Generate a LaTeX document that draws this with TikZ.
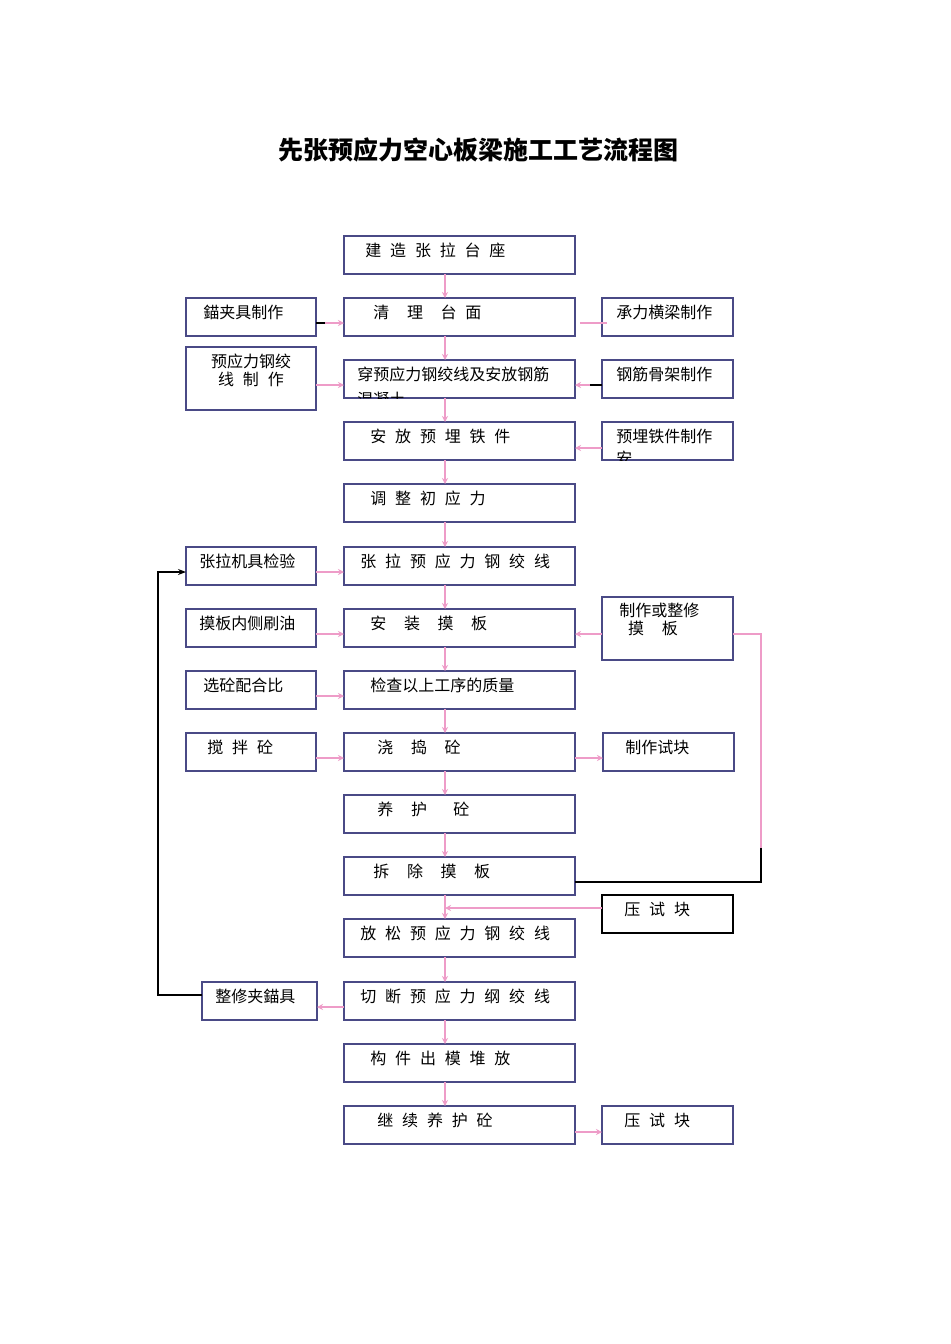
\documentclass[tikz,border=0pt]{standalone}
\usepackage{fontspec}
\setmainfont{Noto Sans CJK SC}
\usetikzlibrary{arrows.meta}
\definecolor{bx}{HTML}{4A4A86}
\definecolor{pk}{HTML}{EE9CC8}
\newcommand{\gapx}{\hspace{0.55em}}
\begin{document}
\begin{tikzpicture}[x=0.5pt,y=-0.5pt,
  box/.style={draw=bx,line width=0.9pt},
  tx/.style={anchor=west,font=\fontsize{8}{9}\selectfont,inner sep=0pt},
  pa/.style={draw=pk,line width=0.8pt,-{Stealth[length=3pt,width=3pt]}},
  pl/.style={draw=pk,line width=0.8pt}]
\useasboundingbox (0,0) rectangle (950,1344);
\fill[white] (0,0) rectangle (950,1344);
\node[font=\bfseries\fontsize{12.5}{14}\selectfont] (title) at (478,150) {先张预应力空心板梁施工工艺流程图};
% center column
\foreach \n/\y/\t/\xx in {
 c1/236/{建\gapx 造\gapx 张\gapx 拉\gapx 台\gapx 座}/365,
 c2/298/{清\gapx\gapx 理\gapx\gapx 台\gapx 面}/373,
 c3/360/{穿预应力钢绞线及安放钢筋}/357,
 c4/422/{安\gapx 放\gapx 预\gapx 埋\gapx 铁\gapx 件}/370,
 c5/484/{调\gapx 整\gapx 初\gapx 应\gapx 力}/370,
 c6/547/{张\gapx 拉\gapx 预\gapx 应\gapx 力\gapx 钢\gapx 绞\gapx 线}/360,
 c7/609/{安\gapx\gapx 装\gapx\gapx 摸\gapx\gapx 板}/370,
 c8/671/{检查以上工序的质量}/370,
 c9/733/{浇\gapx\gapx 捣\gapx\gapx 砼}/377,
 c10/795/{养\gapx\gapx 护\gapx\gapx\gapx 砼}/377,
 c11/857/{拆\gapx\gapx 除\gapx\gapx 摸\gapx\gapx 板}/373,
 c12/919/{放\gapx 松\gapx 预\gapx 应\gapx 力\gapx 钢\gapx 绞\gapx 线}/360,
 c13/982/{切\gapx 断\gapx 预\gapx 应\gapx 力\gapx 纲\gapx 绞\gapx 线}/360,
 c14/1044/{构\gapx 件\gapx 出\gapx 模\gapx 堆\gapx 放}/370,
 c15/1106/{继\gapx 续\gapx 养\gapx 护\gapx 砼}/377}{
  \draw[box] (344,\y) rectangle (575,\y+38);
  \coordinate (\n t) at (445,\y);
  \coordinate (\n b) at (445,\y+38);
  \node[tx] (\n) at (\xx,\y+14) {\t};
}
\begin{scope}
\clip (344,360) rectangle (575,398);
\node[tx] (c3x) at (357,399) {混凝土};
\end{scope}
\foreach \a/\b in {c1/c2,c2/c3,c3/c4,c4/c5,c5/c6,c6/c7,c7/c8,c8/c9,c9/c10,c10/c11,c11/c12,c12/c13,c13/c14,c14/c15}{
  \draw[pa] (\a b) -- (\b t);
}
% left boxes
\draw[box] (186,298) rectangle (316,336); \node[tx] (l1) at (203,312) {錨夹具制作};
\draw[box] (186,347) rectangle (316,410); \node[tx,align=center,anchor=north] (l2) at (251,354) {预应力钢绞\\线\gapx 制\gapx 作};
\draw[box] (186,547) rectangle (316,585); \node[tx] (l3) at (199,561) {张拉机具检验};
\draw[box] (186,609) rectangle (316,647); \node[tx] (l4) at (199,623) {摸板内侧刷油};
\draw[box] (186,671) rectangle (316,709); \node[tx] (l5) at (203,685) {选砼配合比};
\draw[box] (186,733) rectangle (316,771); \node[tx] (l6) at (207,747) {搅\gapx 拌\gapx 砼};
\draw[box] (202,982) rectangle (317,1020); \node[tx] (l7) at (215,996) {整修夹錨具};
% right boxes
\draw[box] (602,298) rectangle (733,336); \node[tx] (r1) at (616,312) {承力横梁制作};
\draw[box] (602,360) rectangle (733,398); \node[tx] (r2) at (616,374) {钢筋骨架制作};
\draw[box] (602,422) rectangle (733,460); \node[tx] (r3) at (616,436) {预埋铁件制作};
\begin{scope}
\clip (602,422) rectangle (733,460);
\node[tx] (r3x) at (616,458) {安};
\end{scope}
\draw[box] (602,597) rectangle (733,660); \node[tx,align=left,anchor=north west] (r4) at (619,603) {制作或整修\\\gapx 摸\gapx\gapx 板};
\draw[box] (603,733) rectangle (734,771); \node[tx] (r5) at (625,747) {制作试块};
\draw[box,draw=black] (602,895) rectangle (733,933); \node[tx] (r6) at (624,909) {压\gapx 试\gapx 块};
\draw[box] (602,1106) rectangle (733,1144); \node[tx] (r7) at (624,1120) {压\gapx 试\gapx 块};
% side connectors
\draw[black,line width=0.8pt] (316,323) -- (325,323);
\draw[pa] (325,323) -- (344,323);
\draw[pa] (316,385) -- (344,385);
\draw[pa] (316,572) -- (344,572);
\draw[pa] (316,634) -- (344,634);
\draw[pa] (316,696) -- (344,696);
\draw[pa] (316,758) -- (344,758);
\draw[pa] (344,1007) -- (317,1007);
\draw[pl] (607,323) -- (580,323);
\draw[black,line width=0.8pt] (602,385) -- (590,385);
\draw[pa] (590,385) -- (575,385);
\draw[pa] (602,448) -- (575,448);
\draw[pa] (602,634) -- (575,634);
\draw[pa] (575,758) -- (603,758);
\draw[pa] (575,1132) -- (602,1132);
\draw[pa] (602,908) -- (445,908);
% loops
\draw[black,line width=0.8pt,-{Stealth[length=4pt,width=3pt]}] (202,995) -- (158,995) -- (158,572) -- (186,572);
\draw[pl] (733,634) -- (761,634) -- (761,848);
\draw[black,line width=0.8pt] (761,848) -- (761,882) -- (575,882);
\end{tikzpicture}
\end{document}
